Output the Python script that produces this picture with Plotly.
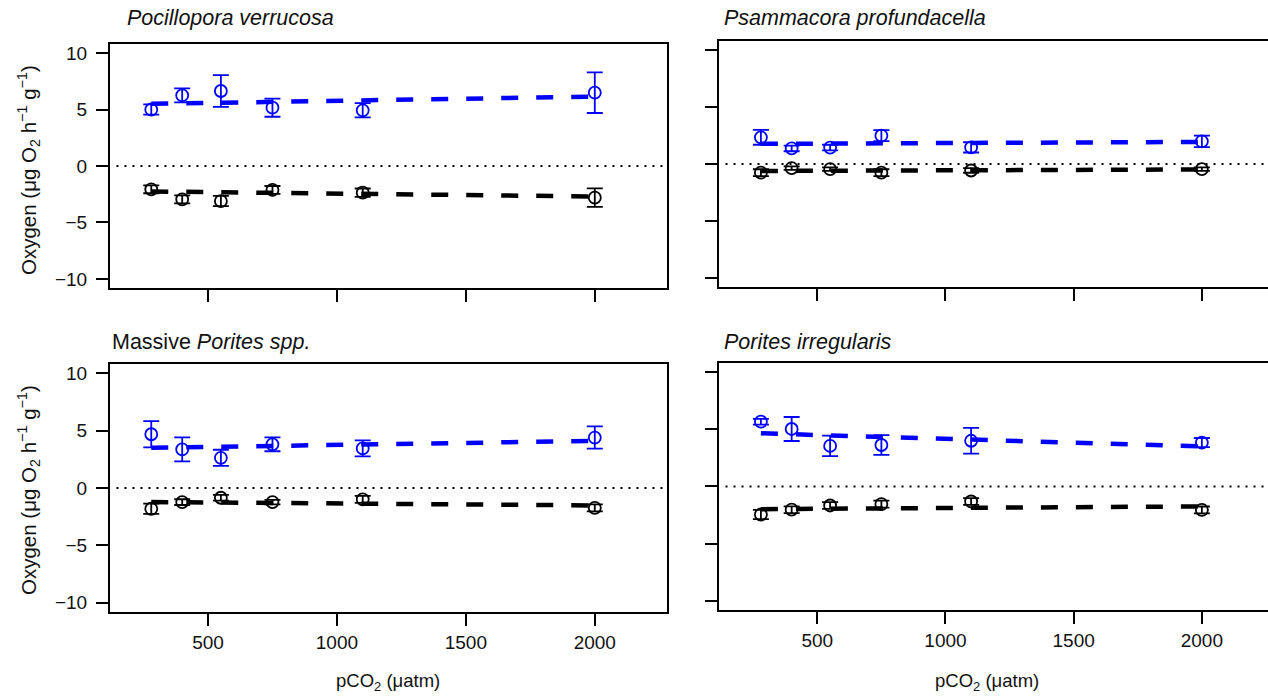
import plotly.graph_objects as go

# ---- data ----
pco2 = [280, 400, 550, 750, 1100, 2000]
fit_x = [280, 2000]

panel_titles = ["<i>Pocillopora verrucosa</i>", "<i>Psammacora profundacella</i>",
                "Massive <i>Porites spp.</i>", "<i>Porites irregularis</i>"]

# Pocillopora verrucosa
pv_photo = [5.0, 6.25, 6.64, 5.16, 4.93, 6.49]
pv_photo_se = [0.45, 0.62, 1.4, 0.8, 0.63, 1.8]
pv_resp = [-2.06, -2.95, -3.1, -2.12, -2.36, -2.8]
pv_resp_se = [0.35, 0.35, 0.45, 0.35, 0.37, 0.82]
pv_photo_fit = [5.5, 6.15]
pv_resp_fit = [-2.25, -2.7]

# Psammacora profundacella
pp_photo = [2.35, 1.38, 1.45, 2.5, 1.47, 2.0]
pp_photo_se = [0.65, 0.25, 0.25, 0.48, 0.45, 0.5]
pp_resp = [-0.75, -0.35, -0.44, -0.75, -0.56, -0.44]
pp_resp_se = [0.3, 0.15, 0.15, 0.3, 0.2, 0.15]
pp_photo_fit = [1.78, 1.95]
pp_resp_fit = [-0.6, -0.47]

# Massive Porites spp.
mp_photo = [4.68, 3.36, 2.63, 3.8, 3.45, 4.39]
mp_photo_se = [1.15, 1.05, 0.7, 0.6, 0.7, 0.97]
mp_resp = [-1.81, -1.23, -0.85, -1.23, -0.99, -1.73]
mp_resp_se = [0.45, 0.25, 0.25, 0.2, 0.3, 0.3]
mp_photo_fit = [3.5, 4.1]
mp_resp_fit = [-1.22, -1.52]

# Porites irregularis
pi_photo = [5.67, 5.03, 3.55, 3.63, 4.0, 3.84]
pi_photo_se = [0.25, 1.05, 0.9, 0.86, 1.13, 0.4]
pi_resp = [-2.45, -2.03, -1.66, -1.54, -1.31, -2.05]
pi_resp_se = [0.4, 0.3, 0.3, 0.3, 0.3, 0.3]
pi_photo_fit = [4.65, 3.5]
pi_resp_fit = [-1.98, -1.74]

y_ticks = [-10, -5, 0, 5, 10]
y_tick_text = ["\u221210", "\u22125", "0", "5", "10"]
x_ticks = [500, 1000, 1500, 2000]

panels = [
    (pv_photo, pv_photo_se, pv_resp, pv_resp_se, pv_photo_fit, pv_resp_fit),
    (pp_photo, pp_photo_se, pp_resp, pp_resp_se, pp_photo_fit, pp_resp_fit),
    (mp_photo, mp_photo_se, mp_resp, mp_resp_se, mp_photo_fit, mp_resp_fit),
    (pi_photo, pi_photo_se, pi_resp, pi_resp_se, pi_photo_fit, pi_resp_fit),
]

# ---- layout geometry (paper coords) ----
x_domains = [[0.0, 0.481], [0.526, 1.0], [0.0, 0.481], [0.526, 1.0]]
y_domains = [[0.5664, 0.993], [0.568, 0.998], [0.0, 0.4336], [0.0035, 0.4353]]
x_ranges = [[120, 2280], [117, 2258], [120, 2280], [117, 2258]]
y_range = [-10.8, 10.8]

FONT = "Liberation Sans, Arial, sans-serif"
BLUE = "#0000ff"
BLACK = "#000000"
TXT = "#111111"

fig = go.Figure()

for i, (ph, phse, rs, rsse, phfit, rsfit) in enumerate(panels):
    n = "" if i == 0 else str(i + 1)
    xa, ya = "x" + n, "y" + n
    for yv, se, fit, col in [(ph, phse, phfit, BLUE), (rs, rsse, rsfit, BLACK)]:
        fig.add_trace(go.Scatter(
            x=pco2, y=yv, mode="markers", xaxis=xa, yaxis=ya,
            marker=dict(symbol="circle-open", size=12, color=col, line=dict(width=1.8, color=col)),
            error_y=dict(type="data", array=se, visible=True, color=col, thickness=1.8, width=8),
            showlegend=False, hoverinfo="skip"))
        fig.add_trace(go.Scatter(
            x=fit_x, y=fit, mode="lines", xaxis=xa, yaxis=ya,
            line=dict(color=col, width=4.5, dash="17px,18px"),
            showlegend=False, hoverinfo="skip"))
    # dotted zero line
    fig.add_shape(type="line", xref=xa, yref=ya,
                  x0=x_ranges[i][0] + 25, x1=x_ranges[i][1] - 10, y0=0, y1=0,
                  line=dict(color=BLACK, width=2, dash="2px,6px"))

    show_xlab = i >= 2
    show_ylab = i in (0, 2)
    right_panel = i in (1, 3)
    layout_x = dict(domain=x_domains[i], range=x_ranges[i], tickvals=x_ticks,
                    showticklabels=show_xlab, ticks="outside", ticklen=12, tickwidth=1.5,
                    tickcolor=BLACK, showline=True, linecolor=BLACK, linewidth=2,
                    mirror=True, showgrid=False, zeroline=False, anchor=ya,
                    ticklabelstandoff=0,
                    tickfont=dict(family=FONT, size=19, color=TXT))
    layout_y = dict(domain=y_domains[i], range=y_range, tickvals=y_ticks,
                    ticktext=y_tick_text,
                    showticklabels=show_ylab, ticks="outside", ticklen=12, tickwidth=1.5,
                    tickcolor=BLACK, showline=True, linecolor=BLACK, linewidth=2,
                    mirror=(not right_panel), showgrid=False, zeroline=False, anchor=xa,
                    ticklabelstandoff=5,
                    tickfont=dict(family=FONT, size=19, color=TXT))
    fig.layout["xaxis" + n] = layout_x
    fig.layout["yaxis" + n] = layout_y

def px_to_paper_x(px):
    return (px - 110) / 1158.0

def py_to_paper_y(py):
    return (612 - py) / 572.0

ann = []
title_pos = [(125, 18), (722, 18), (110, 342), (722, 342)]
for t, (px, py) in zip(panel_titles, title_pos):
    ann.append(dict(text=t, x=px_to_paper_x(px), y=py_to_paper_y(py), xref="paper", yref="paper",
                    xanchor="left", yanchor="middle", showarrow=False,
                    font=dict(family=FONT, size=21.5, color=TXT)))
ylab = "Oxygen (μg O<sub>2</sub> h<sup>\u22121</sup> g<sup>\u22121</sup>)"
for py in (170, 490):
    ann.append(dict(text=ylab, x=px_to_paper_x(28), y=py_to_paper_y(py), xref="paper", yref="paper",
                    xanchor="center", yanchor="middle", textangle=-90, showarrow=False,
                    font=dict(family=FONT, size=20.5, color=TXT)))
xlab = "pCO<sub>2</sub> (μatm)"
for px in (388, 987):
    ann.append(dict(text=xlab, x=px_to_paper_x(px), y=py_to_paper_y(682), xref="paper", yref="paper",
                    xanchor="center", yanchor="middle", showarrow=False,
                    font=dict(family=FONT, size=18.5, color=TXT)))

fig.update_layout(
    width=1268, height=697,
    margin=dict(l=110, r=0, t=40, b=85),
    paper_bgcolor="white", plot_bgcolor="white",
    annotations=ann, showlegend=False,
)

fig.write_html("out.html", config={"displayModeBar": False},
               post_script="document.body.style.margin='0';document.body.style.overflow='hidden';")
